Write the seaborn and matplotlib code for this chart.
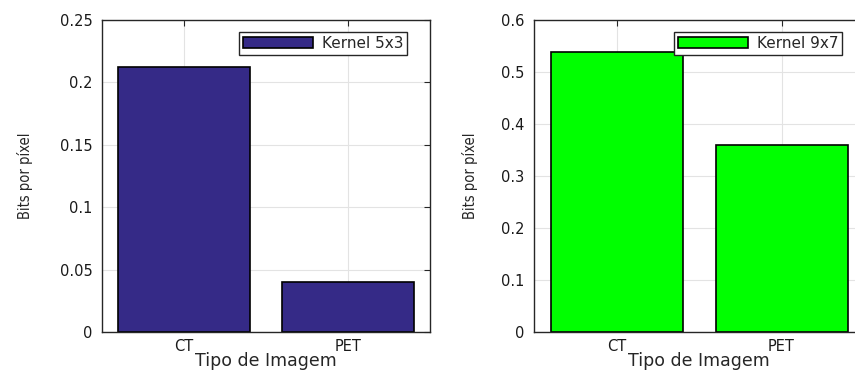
import matplotlib
matplotlib.use("Agg")
import matplotlib.pyplot as plt
import seaborn as sns
import pandas as pd

categories = ["CT", "PET"]
values_5x3 = [0.2125, 0.040]
values_9x7 = [0.538, 0.359]
yticks_left = [0, 0.05, 0.1, 0.15, 0.2, 0.25]
yticklabels_left = ["0", "0.05", "0.1", "0.15", "0.2", "0.25"]
yticks_right = [0, 0.1, 0.2, 0.3, 0.4, 0.5, 0.6]
yticklabels_right = ["0", "0.1", "0.2", "0.3", "0.4", "0.5", "0.6"]
label_left = "Kernel 5x3"
label_right = "Kernel 9x7"
xlabel = "Tipo de Imagem"
ylabel = "Bits por píxel"

sns.set_style("white")
plt.rcParams["font.family"] = ["DejaVu Sans"]

W, H = 855, 371
fig = plt.figure(figsize=(W / 100, H / 100), dpi=100)

def px_axes(x0, x1, y_top, y_bot):
    return fig.add_axes([x0 / W, 1 - y_bot / H, (x1 - x0) / W, (y_bot - y_top) / H])

ax1 = px_axes(102, 430, 20, 332)
ax2 = px_axes(534, 864, 20, 332)

specs = [
    (ax1, values_5x3, "#352a87", label_left, yticks_left, yticklabels_left, 0.25, -0.21, 0.93),
    (ax2, values_9x7, "#00ff00", label_right, yticks_right, yticklabels_right, 0.6, -0.17, 0.933),
]

for ax, vals, col, lab, yt, ytl, ymax, ylx, bx in specs:
    df = pd.DataFrame({"cat": categories, "val": vals})
    sns.barplot(data=df, x="cat", y="val", color=col, edgecolor="black",
                linewidth=1.2, width=0.8, ax=ax, label=lab, saturation=1)
    ax.set_xlim(-0.5, 1.5)
    ax.set_ylim(0, ymax)
    ax.set_yticks(yt)
    ax.set_yticklabels(ytl)
    ax.set_axisbelow(True)
    ax.grid(True, color="#e3e3e3", linewidth=0.8)
    for s in ax.spines.values():
        s.set_color("#262626")
        s.set_linewidth(1.0)
        s.set_visible(True)
    ax.tick_params(direction="in", top=True, right=True, length=4, width=0.8,
                   color="#262626", labelcolor="#1a1a1a")
    ax.tick_params(axis="y", labelsize=10.5, pad=7)
    ax.tick_params(axis="x", labelsize=10.5, pad=5)
    ax.set_xlabel(xlabel, fontsize=12.5, color="#262626")
    ax.xaxis.set_label_coords(0.5, -0.064)
    ax.set_ylabel(ylabel, fontsize=10.5, color="#262626", fontstretch="condensed")
    ax.yaxis.set_label_coords(ylx, 0.5)
    leg = ax.legend(loc="upper right", bbox_to_anchor=(bx, 0.9615), borderaxespad=0,
                    fontsize=11, frameon=True, fancybox=False, framealpha=1,
                    edgecolor="#262626", handlelength=4.6, handleheight=0.75,
                    handletextpad=0.55, borderpad=0.25)
    leg.get_frame().set_linewidth(1.0)
    leg.set_zorder(1)

fig.savefig("out.png", dpi=100)
